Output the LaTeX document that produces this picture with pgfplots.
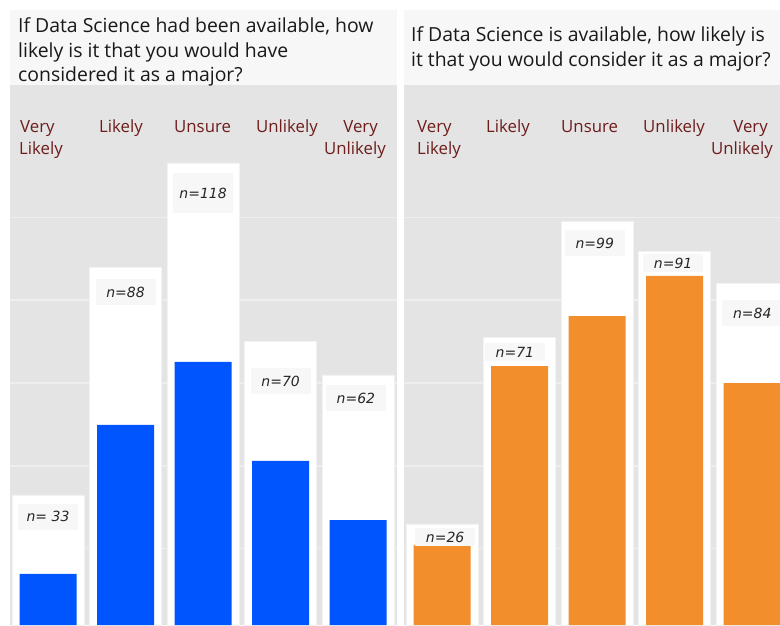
\documentclass[border=0pt]{standalone}
\usepackage{fontspec}
\setmainfont{Open Sans}
\newfontfamily\nfont{DejaVu Sans}
\usepackage{pgfplots}
\pgfplotsset{compat=1.18}
\definecolor{bggray}{HTML}{E4E4E4}
\definecolor{gridc}{HTML}{EEEEEE}
\definecolor{titlebg}{HTML}{F7F7F7}
\definecolor{dsblue}{HTML}{0055FF}
\definecolor{dsorange}{HTML}{F28E2B}
\definecolor{catred}{HTML}{6E1C1C}
\definecolor{boxc}{HTML}{F7F7F7}
\tikzset{
  nlab/.style={font=\nfont\itshape\fontsize{14}{14}\selectfont, fill=boxc, minimum width=60pt, minimum height=26pt, inner sep=0pt, text=black!85},
  cat/.style={anchor=base west, inner sep=0pt, text=catred, font=\fontsize{16.8}{18}\selectfont},
  ttl/.style={anchor=base west, inner sep=0pt, text=black!90, font=\fontsize{19.4}{24}\selectfont}
}
\pgfplotsset{panel/.style={
  width=387pt, height=540pt, scale only axis, anchor=south west,
  xmin=-0.49, xmax=4.5, ymin=1.57, ymax=132,
  ybar, axis line style={draw=none}, major tick length=0pt, tick style={draw=none},
  xtick=\empty, ytick={20,40,...,100}, yticklabels={},
  ymajorgrids, grid style={gridc, line width=1.6pt},
  axis background/.style={fill=bggray},
}}
\begin{document}
\begin{tikzpicture}
\useasboundingbox (0,0) rectangle (780pt,625pt);
\clip (0,0) rectangle (780pt,625pt);
\fill[white] (0,0) rectangle (780pt,625pt);
% title boxes
\fill[titlebg] (10pt,540pt) rectangle (397pt,615pt);
\fill[titlebg] (404pt,540pt) rectangle (780pt,615pt);
% left panel
\begin{axis}[panel, at={(10pt,0pt)}]
\addplot[bar width=72pt, bar shift=0pt, fill=white, draw=gray!10, line width=0.6pt] coordinates {(0,33) (1,88) (2,113.2) (3,70) (4,62)};
\addplot[bar width=57pt, bar shift=0pt, fill=dsblue, draw=none] coordinates {(0,13.9) (1,49.9) (2,65.1) (3,41.2) (4,26.9)};
\node[nlab] at (axis cs:0,27.7) {n= 33};
\node[nlab] at (axis cs:1,82.0) {n=88};
\node[nlab, minimum height=40pt] at (axis cs:2,105.9) {n=118};
\node[nlab] at (axis cs:3,60.5) {n=70};
\node[nlab] at (axis cs:3.97,56.4) {n=62};
\end{axis}
% right panel
\begin{axis}[panel, at={(404pt,0pt)}]
\addplot[bar width=72pt, bar shift=0pt, fill=white, draw=gray!10, line width=0.6pt] coordinates {(0,26) (1,71) (2,99) (3,91.9) (4,84)};
\addplot[bar width=57pt, bar shift=0pt, fill=dsorange, draw=none] coordinates {(0,20.9) (1,64.1) (2,76.2) (3,85.9) (4,60.0)};
\node[nlab, minimum height=18pt] at (axis cs:0.04,22.8) {n=26};
\node[nlab, minimum height=18pt] at (axis cs:0.94,67.5) {n=71};
\node[nlab] at (axis cs:1.97,93.8) {n=99};
\node[nlab, minimum height=18pt] at (axis cs:2.98,89.0) {n=91};
\node[nlab] at (axis cs:4,76.9) {n=84};
\end{axis}
% titles
\node[ttl] at (18pt,592pt) {If Data Science had been available, how};
\node[ttl] at (18pt,567pt) {likely is it that you would have};
\node[ttl] at (18pt,543pt) {considered it as a major?};
\node[ttl] at (411pt,583pt) {If Data Science is available, how likely is};
\node[ttl] at (411pt,558pt) {it that you would consider it as a major?};
% category labels left
\node[cat] at (20pt,492pt) {Very};
\node[cat] at (19pt,470pt) {Likely};
\node[cat] at (99pt,492pt) {Likely};
\node[cat] at (174pt,492pt) {Unsure};
\node[cat] at (256pt,492pt) {Unlikely};
\node[cat, anchor=base east] at (378pt,492pt) {Very};
\node[cat, anchor=base east] at (386pt,470pt) {Unlikely};
% category labels right
\node[cat] at (417pt,492pt) {Very};
\node[cat] at (417pt,470pt) {Likely};
\node[cat] at (486pt,492pt) {Likely};
\node[cat] at (561pt,492pt) {Unsure};
\node[cat] at (643pt,492pt) {Unlikely};
\node[cat, anchor=base east] at (768pt,492pt) {Very};
\node[cat, anchor=base east] at (773pt,470pt) {Unlikely};
\end{tikzpicture}
\end{document}
